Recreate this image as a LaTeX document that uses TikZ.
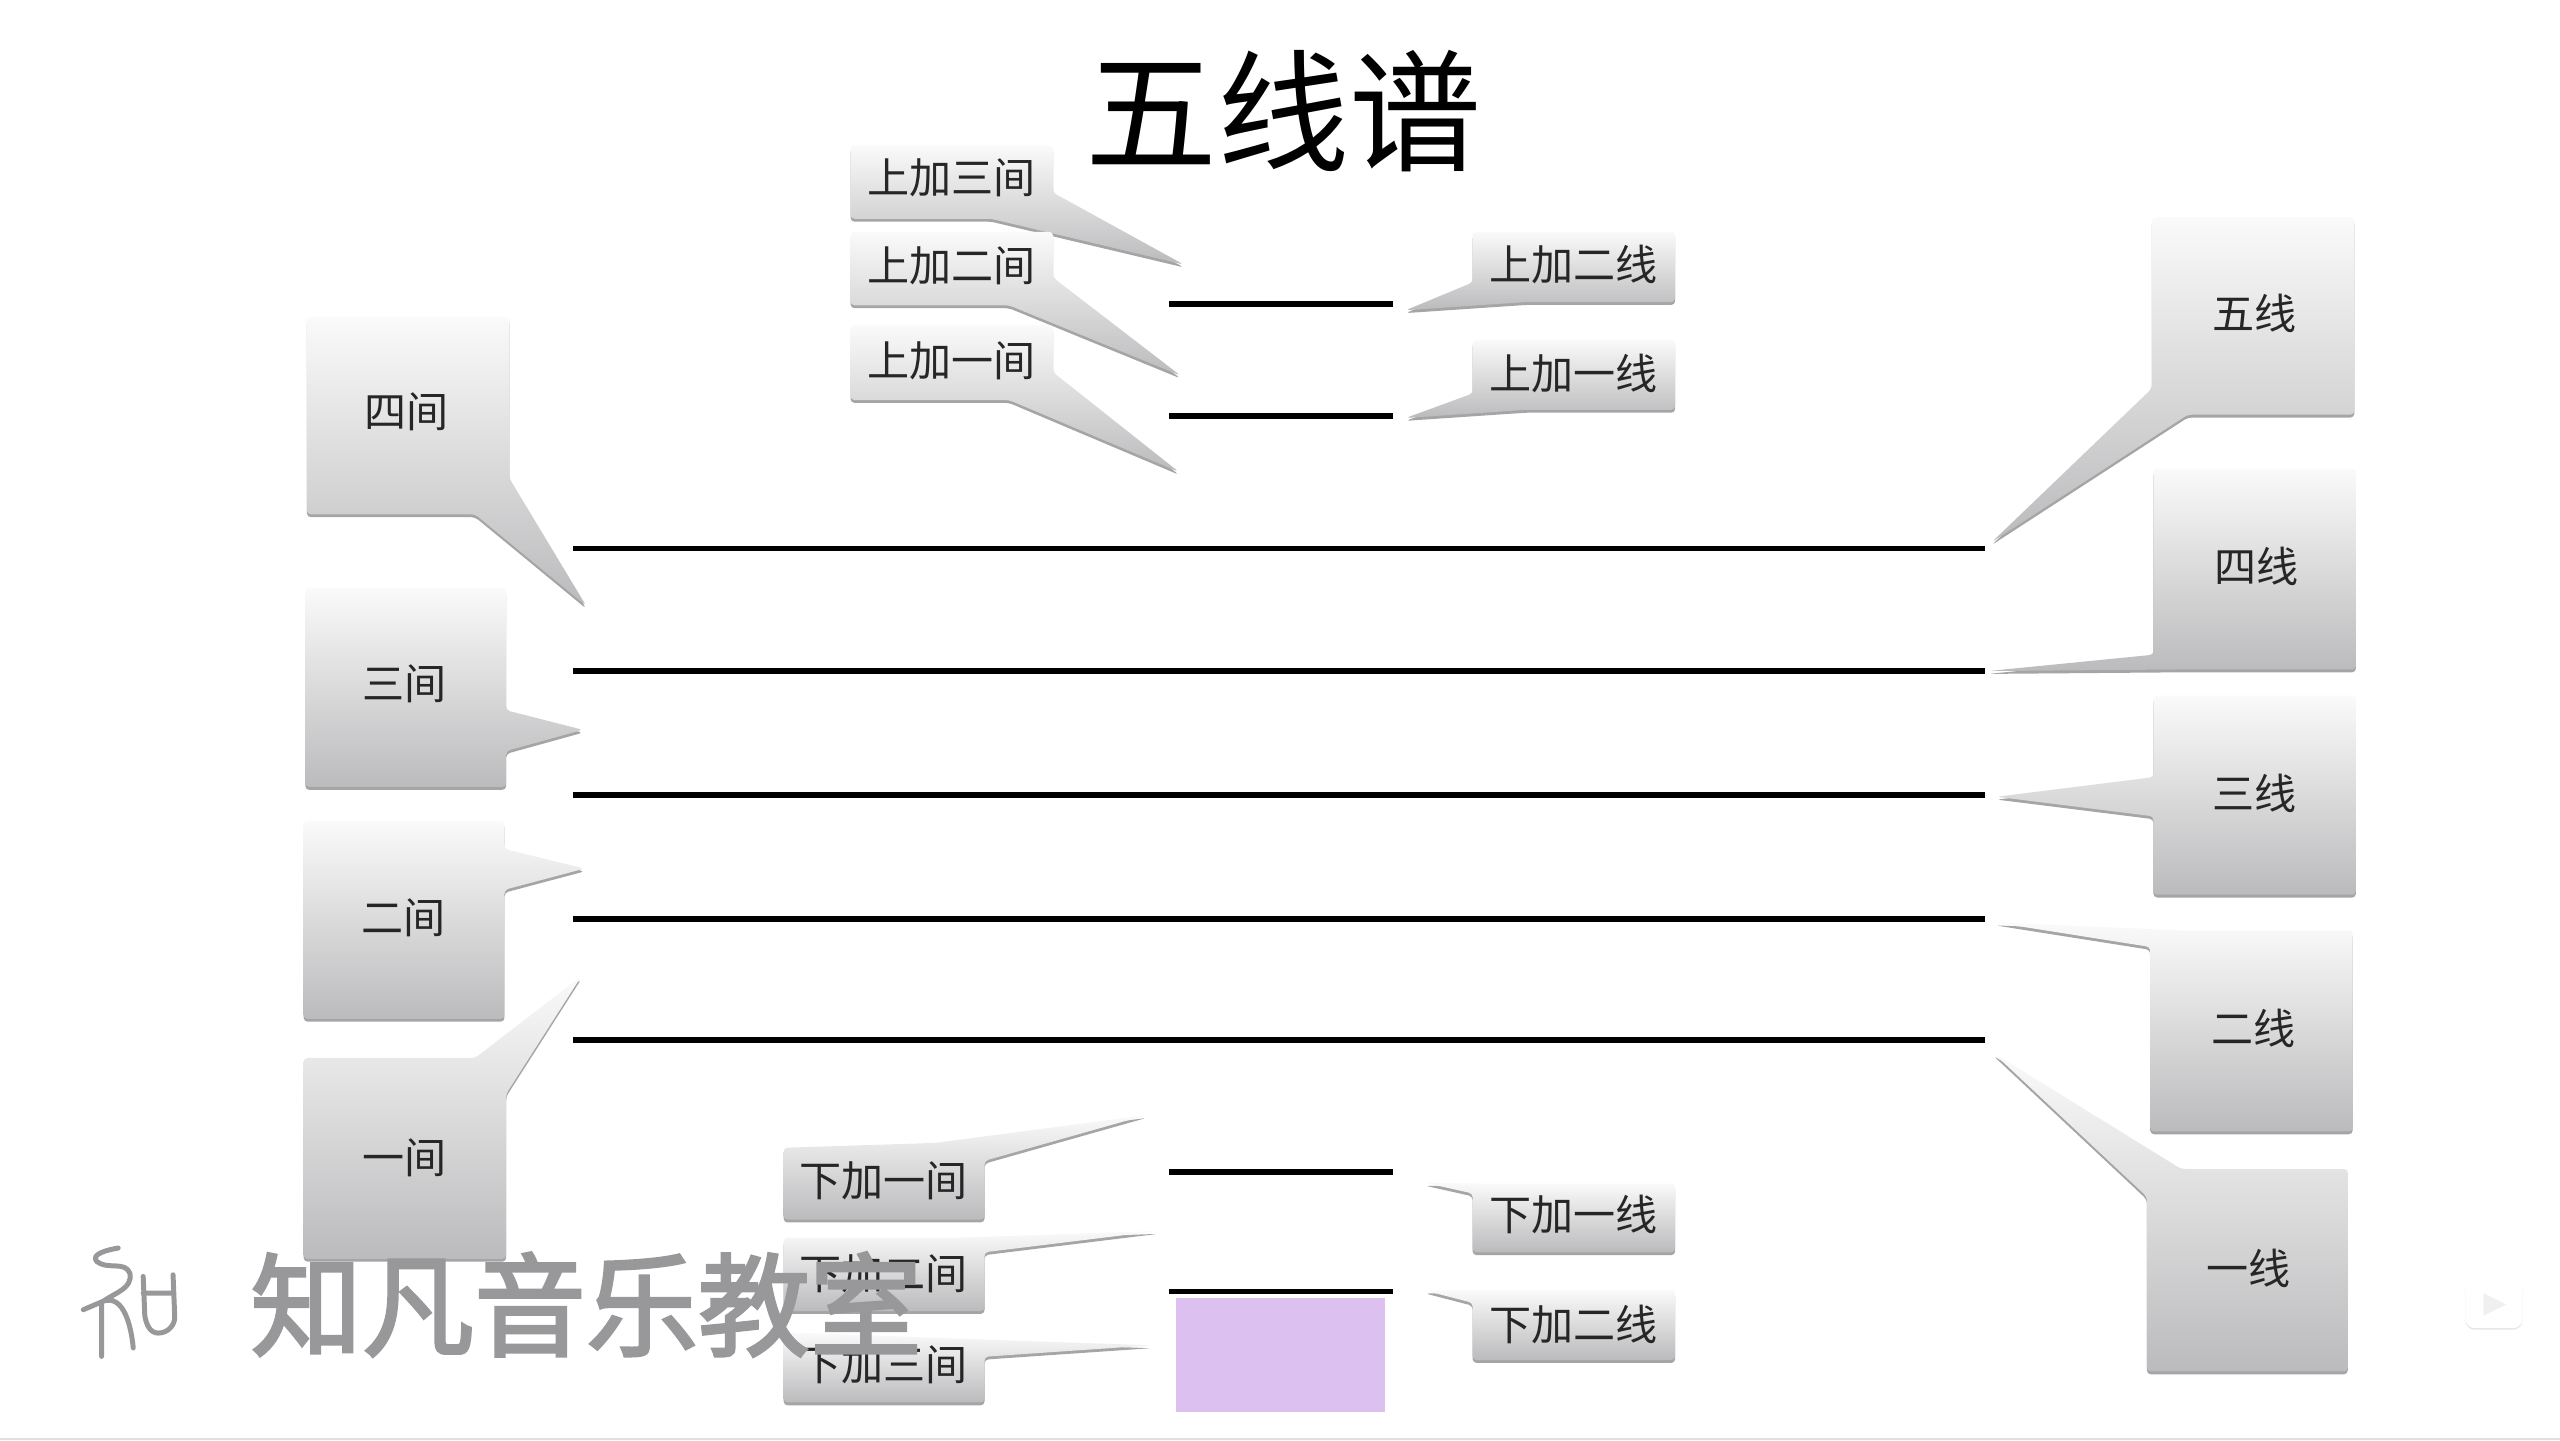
\documentclass[tikz,border=0pt]{standalone}
\usepackage{fontspec}
\setmainfont{Noto Sans CJK SC}
\usepackage{xcolor}
\usetikzlibrary{shadows}
\definecolor{boxtop}{HTML}{FAFAFA}
\definecolor{boxbottom}{HTML}{BBBBBD}
\definecolor{restfill}{HTML}{DCC0F0}
\definecolor{markgray}{HTML}{98989A}
\tikzset{
  tag/.style={top color=boxtop,bottom color=boxbottom,rounded corners=2pt,
    drop shadow={shadow xshift=0pt,shadow yshift=-1.5pt,opacity=0.5,fill=black!70}},
  lab/.style={font=\fontsize{22}{24}\selectfont,text=black!85,inner sep=0pt},
  staffline/.style={line width=3pt,black}
}

\begin{document}
\begin{tikzpicture}[x=0.03cm,y=-0.03cm]
    \useasboundingbox (0,0) rectangle (1568,882);
    \fill[white] (0,0) rectangle (1568,882);
    \fill[black!12] (0,880.5) rectangle (1568,882);
    % title
    \node[font=\fontsize{69}{72}\selectfont,inner sep=0pt] (title) at (786,68) {五线谱};
    % staff and ledger lines
    \foreach \y in {336,411,487,563,637}
      \draw[staffline] (351,\y)--(1216,\y);
    \foreach \y in {186,255,718,791}
      \draw[staffline] (716,\y)--(853,\y);
    \fill[restfill] (720,795) rectangle (848,865);
    % spaces, left column
    \shade[tag] (188,194)--(312,194)--(312,293)--(359,371)--(291,315)--(188,315)--cycle;
    \node[lab] (sijian) at (249,252) {四间};
    \shade[tag] (187,360)--(310,360)--(310,435)--(357,447)--(310,460)--(310,482)--(187,482)--cycle;
    \node[lab] (sanjian) at (248,419) {三间};
    \shade[tag] (186,503)--(309,503)--(309,520)--(358,532)--(309,545)--(309,624)--(186,624)--cycle;
    \node[lab] (erjian) at (247,562) {二间};
    \shade[tag] (186,648)--(291,648)--(356,598)--(310,670)--(310,771)--(186,771)--cycle;
    \node[lab] (yijian) at (248,709) {一间};
    % lines, right column
    \shade[tag] (1318,133)--(1442,133)--(1442,254)--(1340,254)--(1220,332)--(1318,238)--cycle;
    \node[lab] (wuxian) at (1381,192) {五线};
    \shade[tag] (1319,287)--(1443,287)--(1443,410)--(1340,410)--(1218,411)--(1319,401)--cycle;
    \node[lab] (sixian) at (1382,347) {四线};
    \shade[tag] (1319,426)--(1443,426)--(1443,548)--(1319,548)--(1319,500)--(1223,488)--(1319,476)--cycle;
    \node[lab] (sanxian) at (1381,486) {三线};
    \shade[tag] (1338,570)--(1441,570)--(1441,693)--(1317,693)--(1317,580)--(1222,565)--cycle;
    \node[lab] (erxian) at (1380,630) {二线};
    \shade[tag] (1336,716)--(1438,716)--(1438,840)--(1315,840)--(1315,733)--(1221,645)--cycle;
    \node[lab] (yixian) at (1377,777) {一线};
    % above the staff
    \shade[tag] (521,89)--(645,89)--(645,118)--(725,162)--(607,134)--(521,134)--cycle;
    \node[lab] (shangsan) at (583,109) {上加三间};
    \shade[tag] (521,142)--(645,142)--(645,170)--(723,230)--(618,187)--(521,187)--cycle;
    \node[lab] (shanger) at (583,163) {上加二间};
    \shade[tag] (521,199)--(645,199)--(645,228)--(722,289)--(618,245)--(521,245)--cycle;
    \node[lab] (shangyi) at (583,221) {上加一间};
    \shade[tag] (902,142)--(1026,142)--(1026,185)--(935,185)--(861,190)--(902,173)--cycle;
    \node[lab] (shangerxian) at (964,162) {上加二线};
    \shade[tag] (902,208)--(1026,208)--(1026,251)--(935,251)--(861,256)--(902,241)--cycle;
    \node[lab] (shangyixian) at (964,229) {上加一线};
    % below the staff
    \shade[tag] (480,703)--(573,700)--(702,683)--(603,711)--(603,747)--(480,747)--cycle;
    \node[lab] (xiayi) at (541,723) {下加一间};
    \shade[tag] (480,758)--(590,758)--(709,754)--(603,767)--(603,803)--(480,803)--cycle;
    \node[lab] (xiaer) at (541,780) {下加二间};
    \shade[tag] (480,816)--(590,820)--(705,824)--(603,831)--(603,859)--(480,859)--cycle;
    \node[lab] (xiasan) at (541,836) {下加三间};
    \shade[tag] (915,725)--(1026,725)--(1026,767)--(902,767)--(902,731)--(873,724.5)--cycle;
    \node[lab] (xiayixian) at (964,744) {下加一线};
    \shade[tag] (915,790)--(1026,790)--(1026,833)--(902,833)--(902,798)--(873,790.5)--cycle;
    \node[lab] (xiaerxian) at (964,811) {下加二线};
    % watermark
    \node[font=\fontsize{58.5}{60}\selectfont\addfontfeature{FakeBold=2.5},text=markgray,inner sep=0pt] (mark) at (359,799) {知凡音乐教室};
    \draw[markgray,line width=2.6pt,line cap=round,line join=round]
      (72.4,764.4) to[out=190,in=130] (59.2,772.6) to[out=-40,in=110] (79.6,780) to[out=-80,in=35] (63.2,797)--(51,802.2)
      (62.2,799)--(62.2,830.8) (63.2,797) to[out=20,in=95] (81.6,825.6)
      (87.7,781.8)--(88.7,806) to[out=-80,in=180] (97,816.5) to[out=0,in=-85] (107,806)--(106,780.8)
      (87.7,792)--(106,792);
    % player icon
    \fill[white,rounded corners=5pt,drop shadow={shadow xshift=0pt,shadow yshift=-0.8pt,opacity=0.2}] (1510,784) rectangle (1545,813.5);
    \draw[white,line width=2pt,line cap=round] (1521,784)--(1517,778) (1534,784)--(1538,778);
    \fill[black!6] (1521,792)--(1535,799)--(1521,806)--cycle;
\end{tikzpicture}
\end{document}
